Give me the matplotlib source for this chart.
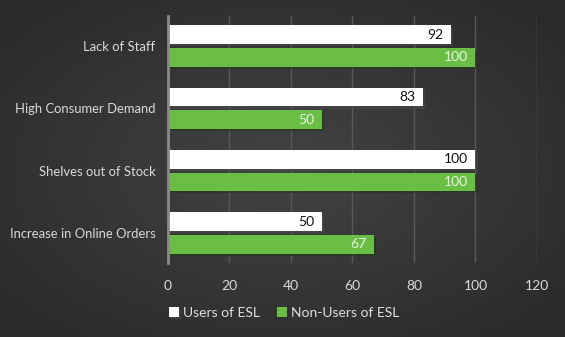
import numpy as np
import matplotlib as mpl
mpl.use("Agg")
from matplotlib import pyplot as plt
import matplotlib.patheffects as pe

# data
categories = ["Lack of Staff", "High Consumer Demand", "Shelves out of Stock", "Increase in Online Orders"]
users = [92, 83, 100, 50]
non_users = [100, 50, 100, 67]
series_names = ["Users of ESL", "Non-Users of ESL"]
xticks = [0, 20, 40, 60, 80, 100, 120]

plt.rcParams['font.family'] = ['Lato', 'DejaVu Sans']

fig = plt.figure(figsize=(5.65, 3.37), dpi=100)

# radial gradient background
bg = fig.add_axes([0, 0, 1, 1])
yy, xx = np.mgrid[-1:1:200j, -1:1:340j]
r = np.sqrt((xx * 0.9) ** 2 + (yy * 0.9) ** 2)
bg.imshow(r, cmap=mpl.colors.LinearSegmentedColormap.from_list("bg", ["#434343", "#2a2a2a"]),
          aspect='auto', extent=[0, 1, 0, 1], vmin=0, vmax=1.2)
bg.axis('off')

ax = fig.add_axes([0.2973, 0.2196, 0.6531, 0.733])
ax.patch.set_alpha(0)

pos = np.arange(len(categories))[::-1]
h = 0.3
off = 0.18
green = "#6abd45"
shadow = [pe.SimplePatchShadow(offset=(1.5, -1.5), alpha=0.5), pe.Normal()]

b1 = ax.barh(pos + off, users, height=h, color="white", label=series_names[0], zorder=3, path_effects=shadow)
b2 = ax.barh(pos - off, non_users, height=h, color=green, label=series_names[1], zorder=3, path_effects=shadow)

for bar, v in zip(b1, users):
    ax.text(v - 2.5, bar.get_y() + bar.get_height() / 2, str(v), ha='right', va='center',
            fontsize=10, color='#111111', zorder=4)
for bar, v in zip(b2, non_users):
    ax.text(v - 2.5, bar.get_y() + bar.get_height() / 2, str(v), ha='right', va='center',
            fontsize=10, color='#e8f5e0', zorder=4)

ax.set_xlim(0, 120)
ax.set_ylim(-0.48, 3.48)
ax.set_xticks(xticks)
ax.set_yticks(pos)
ax.set_yticklabels(categories)
ax.tick_params(axis='both', length=0, labelsize=10, colors='#d9d9d9')
ax.tick_params(axis='y', labelsize=9.4)
ax.tick_params(axis='x', pad=12)
ax.tick_params(axis='y', pad=9)
ax.grid(axis='x', color='#585858', linewidth=1, zorder=0)
for s in ['top', 'right', 'bottom']:
    ax.spines[s].set_visible(False)
ax.spines['left'].set_color('#8a8a8a')
ax.spines['left'].set_linewidth(2)
ax.spines['left'].set_zorder(5)

leg = fig.legend(handles=[b1, b2], loc='center', bbox_to_anchor=(0.503, 0.071), ncol=2,
                 frameon=False, fontsize=10, labelcolor='#e0e0e0', handlelength=0.7,
                 handleheight=0.7, handletextpad=0.3, columnspacing=1.2)

fig.savefig("out.png", dpi=100)
